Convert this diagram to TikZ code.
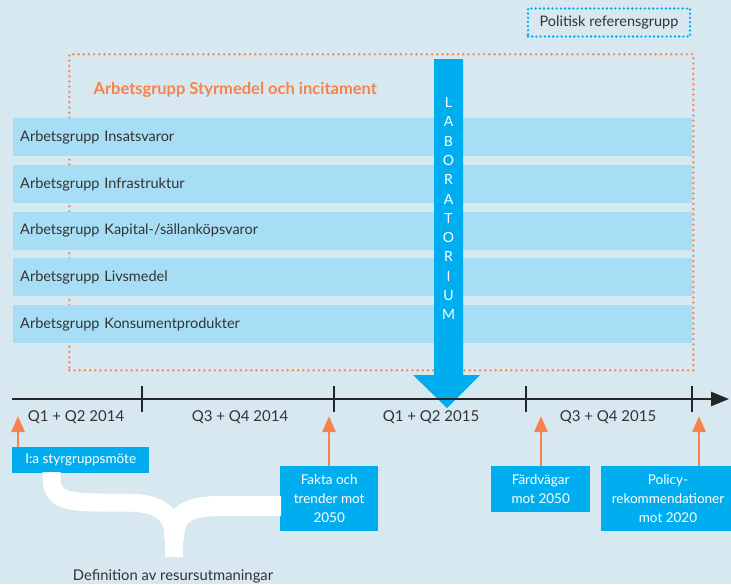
\documentclass[tikz,border=0pt]{standalone}
\usepackage{fontspec}
\setmainfont{Lato}
\usetikzlibrary{arrows.meta}
\definecolor{bgc}{HTML}{D8E8F0}
\definecolor{barc}{HTML}{A8DDF6}
\definecolor{cyanc}{HTML}{00AEEF}
\definecolor{orc}{HTML}{F5844C}
\definecolor{txc}{HTML}{333333}
\tikzset{
  bar/.style={fill=barc, anchor=north west, text width=665pt, inner xsep=7pt, minimum height=38pt, align=left, text=txc, font=\fontsize{14.5}{17}\selectfont},
  bluebox/.style={fill=cyanc, text=white, align=center, font=\fontsize{13.5}{19}\selectfont, inner sep=0pt},
  quarter/.style={text=txc, font=\fontsize{15}{17}\selectfont},
  milearrow/.style={draw=orc, line width=2.5pt, -{Triangle[length=16pt,width=13pt]}},
  tick/.style={line width=2pt, draw=black!85},
}
\begin{document}
\begin{tikzpicture}[x=1pt,y=-1pt]
\fill[bgc] (0,0) rectangle (731,584);
\useasboundingbox (0,0) rectangle (731,584);
\clip (0,0) rectangle (731,584);
% Politisk referensgrupp
\node[draw=cyanc, line width=2.6pt, dash pattern=on 0pt off 4.2pt, line cap=round, minimum width=162pt, minimum height=28pt, text=txc, font=\fontsize{14.5}{17}\selectfont] (pol) at (609,22.5) {Politisk referensgrupp};
% orange dotted frame
\node[draw=orc, line width=2.6pt, dash pattern=on 0pt off 5.2pt, line cap=round, anchor=north west, minimum width=624pt, minimum height=316pt, inner sep=0pt] (frame) at (68,53) {};
\node[anchor=west, text=orc, font=\bfseries\fontsize{16.5}{18}\selectfont] (title) at (90,90) {Arbetsgrupp Styrmedel och incitament};
% bars
\node[bar] (b1) at (13,118) {Arbetsgrupp Insatsvaror};
\node[bar] (b2) at (13,165) {Arbetsgrupp Infrastruktur};
\node[bar] (b3) at (13,211.5) {Arbetsgrupp Kapital-/sällanköpsvaror};
\node[bar] (b4) at (13,258) {Arbetsgrupp Livsmedel};
\node[bar] (b5) at (13,305) {Arbetsgrupp Konsumentprodukter};
% Laboratorium arrow
\fill[cyanc] (434,59) -- (463,59) -- (463,375) -- (480,375) -- (447,408) -- (413,375) -- (434,375) -- cycle;
\node[text=white, align=center, font=\fontsize{14}{19.3}\selectfont, anchor=north] (lab) at (448.5,94) {L\\A\\B\\O\\R\\A\\T\\O\\R\\I\\U\\M};
% timeline
\coordinate (t0) at (12,399);
\coordinate (t1) at (729,399);
\draw[line width=2.5pt, draw=black!85, -{Triangle[length=18pt,width=14pt]}] (t0) -- (t1);
\foreach \x/\n in {142/k1,334/k2,526/k3,692/k4}{
  \coordinate (\n a) at (\x,386);
  \coordinate (\n b) at (\x,412);
  \draw[tick] (\n a) -- (\n b);
}
\node[quarter] (q1) at (76,417) {Q1 + Q2 2014};
\node[quarter] (q2) at (240,417) {Q3 + Q4 2014};
\node[quarter] (q3) at (431,417) {Q1 + Q2 2015};
\node[quarter] (q4) at (608,417) {Q3 + Q4 2015};
% milestone boxes
\node[bluebox, anchor=north west, minimum width=137pt, minimum height=26pt] (m1) at (12,447) {I:a styrgruppsmöte};
\node[bluebox, anchor=north west, minimum width=98pt, minimum height=65pt] (m2) at (280,466) {Fakta och\\trender mot\\2050};
\node[bluebox, anchor=north west, minimum width=99pt, minimum height=46pt] (m3) at (491,466) {Färdvägar\\mot 2050};
\node[bluebox, anchor=north, minimum width=134pt, minimum height=65pt] (m4) at (668,466) {Policy-\\rekommendationer\\mot 2020};
% orange arrows
\coordinate (a1) at (18,416);
\coordinate (a2) at (329,416);
\coordinate (a3) at (541,416);
\coordinate (a4) at (699,416);
\draw[milearrow] (m1.north -| a1) -- (a1);
\draw[milearrow] (m2.north -| a2) -- (a2);
\draw[milearrow] (m3.north -| a3) -- (a3);
\draw[milearrow] (m4.north -| a4) -- (a4);
% brace
\draw[white, line width=18pt, line join=round] (51.5,472) -- (51.5,478) .. controls (51.5,499) and (66,502.5) .. (100,502.5) -- (125,502.5) .. controls (162,502.5) and (174,515) .. (174,540) -- (174,557);
\draw[white, line width=20pt, line join=round] (174,540) .. controls (174,514) and (186,506) .. (222,506) -- (281,506);
\node[text=txc, font=\fontsize{14.8}{17}\selectfont] (def) at (173,576) {Definition av resursutmaningar};
\end{tikzpicture}
\end{document}
